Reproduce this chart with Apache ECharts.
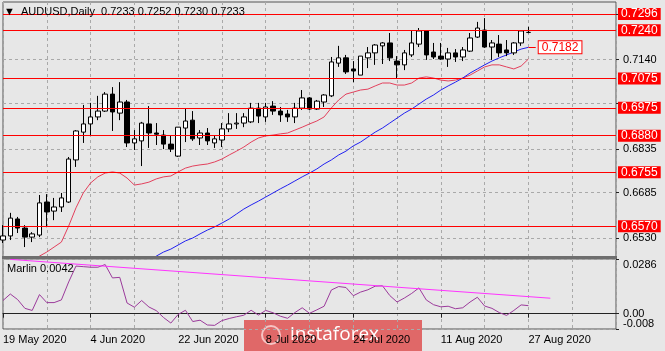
<!DOCTYPE html>
<html>
<head>
<meta charset="utf-8">
<title>AUDUSD Daily</title>
<script src="https://cdn.jsdelivr.net/npm/echarts@6/dist/echarts.min.js"></script>
<style>
  html, body { margin: 0; padding: 0; background: #e7e7e7; }
  #chart { width: 665px; height: 351px; }
</style>
</head>
<body>
<div id="chart"></div>
<script>
// trading days shown, plus empty future slots on the right
var dates = [
  '19 May 2020','20 May 2020','21 May 2020','22 May 2020','25 May 2020','26 May 2020','27 May 2020','28 May 2020','29 May 2020',
  '1 Jun 2020','2 Jun 2020','3 Jun 2020','4 Jun 2020','5 Jun 2020','8 Jun 2020','9 Jun 2020','10 Jun 2020','11 Jun 2020','12 Jun 2020',
  '15 Jun 2020','16 Jun 2020','17 Jun 2020','18 Jun 2020','19 Jun 2020','22 Jun 2020','23 Jun 2020','24 Jun 2020','25 Jun 2020','26 Jun 2020',
  '29 Jun 2020','30 Jun 2020','1 Jul 2020','2 Jul 2020','3 Jul 2020','6 Jul 2020','7 Jul 2020','8 Jul 2020','9 Jul 2020','10 Jul 2020',
  '13 Jul 2020','14 Jul 2020','15 Jul 2020','16 Jul 2020','17 Jul 2020','20 Jul 2020','21 Jul 2020','22 Jul 2020','23 Jul 2020','24 Jul 2020',
  '27 Jul 2020','28 Jul 2020','29 Jul 2020','30 Jul 2020','31 Jul 2020','3 Aug 2020','4 Aug 2020','5 Aug 2020','6 Aug 2020','7 Aug 2020',
  '10 Aug 2020','11 Aug 2020','12 Aug 2020','13 Aug 2020','14 Aug 2020','17 Aug 2020','18 Aug 2020','19 Aug 2020','20 Aug 2020','21 Aug 2020',
  '24 Aug 2020','25 Aug 2020','26 Aug 2020','27 Aug 2020',
  '28 Aug 2020','31 Aug 2020','1 Sep 2020','2 Sep 2020','3 Sep 2020','4 Sep 2020','7 Sep 2020','8 Sep 2020','9 Sep 2020','10 Sep 2020','11 Sep 2020','14 Sep 2020'
];

var opens = [0.6523,0.6537,0.6595,0.6564,0.6533,0.6540,0.6653,0.6622,0.6636,0.6653,0.6797,0.6892,0.6920,0.6944,0.6964,0.7022,0.6957,0.6995,0.6855,0.6862,
  0.6920,0.6889,0.6882,0.6851,0.6810,0.6906,0.6933,0.6872,0.6889,0.6855,0.6865,0.6903,0.6920,0.6923,0.6927,0.6974,0.6944,0.6981,0.6964,0.6954,
  0.6944,0.6974,0.7009,0.6971,0.6995,0.7016,0.7128,0.7146,0.7108,0.7087,0.7146,0.7163,0.7187,0.7197,0.7135,0.7122,0.7156,0.7193,0.7238,0.7166,
  0.7152,0.7142,0.7163,0.7149,0.7169,0.7217,0.7241,0.7183,0.7193,0.7173,0.7163,0.7197,0.7233];
var highs = [0.6574,0.6616,0.6602,0.6574,0.6550,0.6677,0.6680,0.6667,0.6684,0.6807,0.6899,0.6985,0.6992,0.7016,0.7029,0.7046,0.7063,0.7002,0.6899,0.6927,
  0.6981,0.6923,0.6899,0.6882,0.6909,0.6974,0.6964,0.6899,0.6906,0.6879,0.6923,0.6957,0.6957,0.6957,0.6992,0.6992,0.6992,0.6998,0.6978,0.6968,
  0.6992,0.7036,0.7012,0.7002,0.7022,0.7149,0.7187,0.7156,0.7135,0.7152,0.7183,0.7193,0.7200,0.7231,0.7152,0.7173,0.7241,0.7248,0.7241,0.7197,
  0.7197,0.7180,0.7176,0.7183,0.7231,0.7269,0.7282,0.7207,0.7224,0.7207,0.7200,0.7241,0.7252];
var lows = [0.6513,0.6523,0.6547,0.6499,0.6516,0.6533,0.6567,0.6591,0.6619,0.6650,0.6773,0.6855,0.6879,0.6933,0.6961,0.6896,0.6933,0.6841,0.6831,0.6776,
  0.6838,0.6848,0.6834,0.6824,0.6807,0.6858,0.6862,0.6848,0.6848,0.6838,0.6841,0.6892,0.6903,0.6909,0.6923,0.6923,0.6927,0.6951,0.6927,0.6927,
  0.6923,0.6968,0.6968,0.6968,0.6978,0.7012,0.7115,0.7091,0.7063,0.7087,0.7111,0.7122,0.7125,0.7135,0.7077,0.7104,0.7149,0.7183,0.7139,0.7142,
  0.7139,0.7115,0.7132,0.7135,0.7166,0.7214,0.7180,0.7139,0.7149,0.7152,0.7156,0.7187,0.7230];
var closes = [0.6537,0.6598,0.6564,0.6533,0.6544,0.6650,0.6619,0.6636,0.6667,0.6800,0.6896,0.6920,0.6944,0.6964,0.7022,0.6961,0.6995,0.6855,0.6869,0.6923,
  0.6889,0.6885,0.6851,0.6834,0.6909,0.6930,0.6869,0.6889,0.6862,0.6869,0.6903,0.6920,0.6923,0.6944,0.6974,0.6947,0.6978,0.6964,0.6951,0.6944,
  0.6974,0.7009,0.6971,0.6998,0.7019,0.7132,0.7146,0.7098,0.7101,0.7152,0.7163,0.7190,0.7197,0.7146,0.7122,0.7163,0.7197,0.7238,0.7156,0.7149,
  0.7142,0.7163,0.7149,0.7173,0.7214,0.7248,0.7183,0.7197,0.7163,0.7163,0.7197,0.7238,0.7233];

// moving averages
var maRed = [null,null,null,0.6427,0.6448,0.6468,0.6482,0.6499,0.6516,0.6571,0.6633,0.6684,0.6718,0.6739,0.6752,0.6756,0.6752,0.6735,0.6711,0.6715,
  0.6721,0.6732,0.6739,0.6742,0.6756,0.6769,0.6776,0.6780,0.6783,0.6790,0.6800,0.6814,0.6827,0.6841,0.6858,0.6872,0.6879,0.6882,0.6886,0.6889,
  0.6899,0.6909,0.6920,0.6930,0.6944,0.6975,0.7002,0.7022,0.7029,0.7036,0.7039,0.7050,0.7060,0.7060,0.7053,0.7053,0.7060,0.7077,0.7081,0.7077,
  0.7070,0.7067,0.7070,0.7077,0.7087,0.7101,0.7115,0.7122,0.7122,0.7115,0.7108,0.7118,0.7142];
var maBlue = [null,null,null,null,null,null,null,null,null,null,null,null,null,null,null,null,null,null,null,null,
  0.6455,0.6468,0.6482,0.6492,0.6506,0.6520,0.6530,0.6544,0.6557,0.6568,0.6581,0.6595,0.6612,0.6629,0.6643,0.6656,0.6670,0.6684,0.6698,0.6711,
  0.6725,0.6739,0.6752,0.6766,0.6783,0.6797,0.6814,0.6827,0.6845,0.6858,0.6875,0.6892,0.6906,0.6923,0.6940,0.6957,0.6971,0.6988,0.7005,0.7019,
  0.7036,0.7050,0.7063,0.7077,0.7094,0.7108,0.7122,0.7135,0.7146,0.7156,0.7166,0.7176,0.7182];

// Marlin oscillator (lower panel) and its trend line
var marlin = [0.0069,0.0103,0.0074,0.0028,0.0017,0.0100,0.0058,0.0058,0.0072,0.0166,0.0249,0.0246,0.0243,0.0243,0.0257,0.0187,0.0190,0.0056,0.0034,0.0069,
  0.0035,0.0016,-0.0020,-0.0049,-0.0004,0.0018,-0.0041,-0.0034,-0.0059,-0.0061,-0.0036,-0.0025,-0.0016,-0.0008,0.0018,-0.0007,0.0017,0.0005,-0.0013,-0.0024,
  0.0006,0.0031,0.0002,0.0020,0.0039,0.0124,0.0142,0.0137,0.0094,0.0113,0.0125,0.0144,0.0146,0.0095,0.0061,0.0082,0.0106,0.0135,0.0072,0.0047,
  0.0036,0.0039,0.0026,0.0031,0.0061,0.0086,0.0040,0.0028,0.0006,-0.0009,0.0017,0.0046,0.0042];
var marlinTrend = [[1, 0.0284], [75, 0.0081]];

// horizontal levels and scale ticks
var levels = [0.7296, 0.7240, 0.7075, 0.6975, 0.6880, 0.6755, 0.6570];
var bidPrice = 0.7233;
var maLabel = 0.7182;
var priceTicks = [0.6530, 0.6685, 0.6835, 0.6990, 0.7140, 0.7295];
var priceTickLabels = [0.6530, 0.6685, 0.6835, 0.7140]; // the others sit under the red boxes
var marlinTicks = [-0.008, 0, 0.0286];
var marlinTickLabels = ['0.00', '0.0286'];

var FONT = 'Liberation Sans';
var RED = '#ff0000';
var last = opens.length - 1;

var candles = [];
for (var i = 0; i < opens.length; i++) {
  candles.push([opens[i], closes[i], lows[i], highs[i]]);
}

function everyN(n) {
  return function (idx) { return idx % n === 0; };
}
function labelIdx(idx) {
  return idx % 12 === 0 && idx < 84;
}

var dash = { color: '#a9a9a9', type: [3, 3], width: 1 };
var redLine = { color: RED, width: 1, type: 'solid', opacity: 1 };
var redBox = { position: 'end', distance: 2, padding: [0, 3], lineHeight: 12,
  backgroundColor: RED, color: '#fff', fontSize: 12, fontFamily: FONT, formatter: '{b}' };

// bid label first so the red 0.7240 box is drawn over it
var levelLines = [{ yAxis: bidPrice, name: bidPrice.toFixed(4), lineStyle: { opacity: 0 },
  label: Object.assign({}, redBox, { backgroundColor: '#000' }) }];
levels.forEach(function (v) {
  levelLines.push({ yAxis: v, name: v.toFixed(4), lineStyle: redLine, label: redBox });
});
levelLines.push([
  { coord: [dates[last], maLabel], name: maLabel.toFixed(4), lineStyle: redLine,
    label: Object.assign({}, redBox, { backgroundColor: '#fff', color: RED, borderColor: RED, borderWidth: 1, distance: 3 }) },
  { coord: [dates[last + 1], maLabel] }
]);

var chart = echarts.init(document.getElementById('chart'));
chart.setOption({
  animation: false,
  backgroundColor: '#e7e7e7',
  textStyle: { fontFamily: FONT },
  title: [{
    text: '\u25BC  AUDUSD,Daily  ' + opens[last].toFixed(4) + ' ' + highs[last].toFixed(4) + ' ' +
      lows[last].toFixed(4) + ' ' + closes[last].toFixed(4),
    left: 4, top: 6, padding: 0,
    textStyle: { fontSize: 11, fontWeight: 'normal', color: '#000', fontFamily: FONT }
  }, {
    text: 'Marlin ' + marlin[last].toFixed(4),
    left: 7, top: 263, padding: 0,
    textStyle: { fontSize: 11, fontWeight: 'normal', color: '#000', fontFamily: FONT }
  }],
  grid: [
    { left: 3, right: 49, top: 2, height: 255, show: true, borderColor: '#555', borderWidth: 1 },
    { left: 3, right: 49, top: 259, height: 70, show: true, borderColor: '#555', borderWidth: 1 }
  ],
  xAxis: [{
    type: 'category', gridIndex: 0, data: dates, boundaryGap: false,
    axisLine: { show: false }, axisTick: { show: false }, axisLabel: { show: false },
    splitLine: { show: true, interval: everyN(6), lineStyle: dash }
  }, {
    type: 'category', gridIndex: 1, data: dates, boundaryGap: false,
    axisLine: { show: true, lineStyle: { color: '#222' } },
    axisTick: { show: true, interval: labelIdx, length: 4, lineStyle: { color: '#222' } },
    axisLabel: { interval: labelIdx, align: 'left', margin: 5, fontSize: 11, color: '#000', fontFamily: FONT },
    splitLine: { show: true, interval: everyN(6), lineStyle: dash }
  }],
  yAxis: [{
    type: 'value', gridIndex: 0, position: 'right', min: 0.6465, max: 0.7337,
    axisLine: { show: false },
    axisTick: { show: true, customValues: priceTicks, length: 3, lineStyle: { color: '#222' } },
    axisLabel: { customValues: priceTickLabels, margin: 7, fontSize: 11, color: '#000', fontFamily: FONT,
      formatter: function (v) { return v.toFixed(4); } },
    splitLine: { show: true, lineStyle: dash }
  }, {
    type: 'value', gridIndex: 1, position: 'right', min: -0.008, max: 0.0286,
    axisLine: { show: false },
    axisTick: { show: true, customValues: marlinTicks, length: 3, lineStyle: { color: '#222' } },
    axisLabel: { customValues: [0, 0.0286], margin: 7, fontSize: 11, color: '#000', fontFamily: FONT,
      verticalAlignMaxLabel: 'top',
      formatter: function (v) { return v === 0 ? marlinTickLabels[0] : marlinTickLabels[1]; } },
    splitLine: { show: true, lineStyle: dash }
  }, {
    // second scale on the same panel, only for the bottom label
    type: 'value', gridIndex: 1, position: 'right', min: -0.008, max: 0.0286,
    axisLine: { show: false }, axisTick: { show: false }, splitLine: { show: false },
    axisLabel: { customValues: [-0.008], margin: 7, fontSize: 11, color: '#000', fontFamily: FONT,
      verticalAlignMinLabel: 'bottom', verticalAlign: 'bottom',
      formatter: function (v) { return v.toFixed(3); } }
  }],
  series: [{
    name: 'MA fast', type: 'line', xAxisIndex: 0, yAxisIndex: 0, data: maRed,
    showSymbol: false, z: 2, lineStyle: { color: '#e2405c', width: 1 }
  }, {
    name: 'MA slow', type: 'line', xAxisIndex: 0, yAxisIndex: 0, data: maBlue,
    showSymbol: false, z: 2, lineStyle: { color: '#2020f0', width: 1 }
  }, {
    name: 'AUDUSD', type: 'candlestick', xAxisIndex: 0, yAxisIndex: 0, data: candles,
    barWidth: 5, z: 3,
    itemStyle: { color: '#fff', color0: '#000', borderColor: '#000', borderColor0: '#000', borderWidth: 1 }
  }, {
    // horizontal levels and price boxes
    name: 'Levels', type: 'line', xAxisIndex: 0, yAxisIndex: 0, data: [], z: 4,
    itemStyle: { color: RED }, lineStyle: { color: RED },
    markLine: {
      silent: true, symbol: 'none', animation: false, precision: 4,
      lineStyle: redLine,
      label: redBox,
      data: levelLines
    }
  }, {
    name: 'Marlin', type: 'line', xAxisIndex: 1, yAxisIndex: 1, data: marlin,
    showSymbol: false, lineStyle: { color: '#9b3a9b', width: 1 }
  }, {
    name: 'Marlin trend', type: 'line', xAxisIndex: 1, yAxisIndex: 1, data: marlinTrend,
    showSymbol: false, lineStyle: { color: '#ff33ff', width: 1 }
  }],
  graphic: [{
    // thick separator between the two panels
    type: 'rect', left: 2, top: 256, z: 10,
    shape: { width: 615, height: 3 }, style: { fill: '#6e6e6e' }
  }, {
    // watermark
    type: 'group', left: 244, top: 320, z: 20,
    children: [{
      type: 'rect', shape: { width: 178, height: 31 }, style: { fill: '#e06868' }
    }, {
      type: 'circle', shape: { cx: 27, cy: 15, r: 9 }, style: { fill: 'none', stroke: '#f6c4c4', lineWidth: 2 }
    }, {
      type: 'text', x: 46, y: 15,
      style: { text: 'instaforex', fill: '#fff', font: '19px "Open Sans"', verticalAlign: 'middle' }
    }]
  }]
});
</script>
</body>
</html>
